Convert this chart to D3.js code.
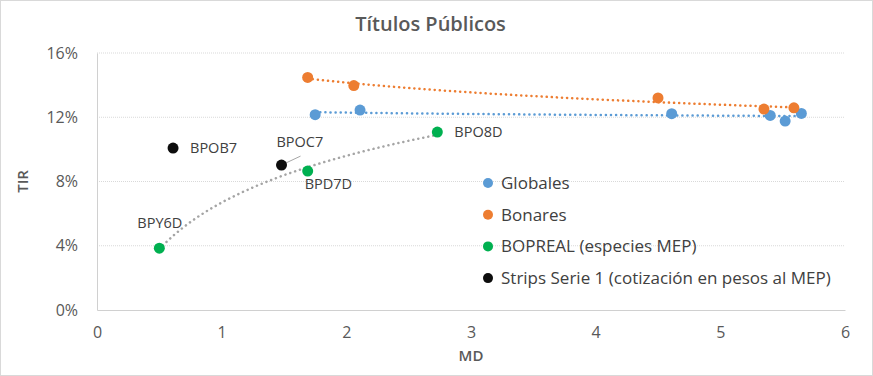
<!DOCTYPE html>
<html>
<head>
<meta charset="utf-8">
<script src="https://cdn.jsdelivr.net/npm/d3@7"></script>
<style>
  body { margin: 0; background: #fff; }
  text { font-family: "Open Sans", "Noto Sans", sans-serif; }
</style>
</head>
<body>
<div id="chart"></div>
<script>
// MD (x) and TIR (y, %) per series
const globalesMD  = [1.75, 2.11, 4.61, 5.40, 5.52, 5.65];
const globalesTIR = [12.16, 12.45, 12.22, 12.11, 11.76, 12.24];

const bonaresMD  = [1.69, 2.06, 4.50, 5.35, 5.59];
const bonaresTIR = [14.48, 13.97, 13.20, 12.51, 12.59];

const boprealNames = ["BPY6D", "BPD7D", "BPO8D"];
const boprealMD    = [0.50, 1.69, 2.73];
const boprealTIR   = [3.85, 8.65, 11.08];

const stripsNames = ["BPOB7", "BPOC7"];
const stripsMD    = [0.61, 1.48];
const stripsTIR   = [10.08, 9.02];

const xTicks = [0, 1, 2, 3, 4, 5, 6];
const yTicks = [0, 4, 8, 12, 16];

const W = 873, H = 376;
const margin = {top: 53, right: 28, bottom: 66, left: 97};
const width = W - margin.left - margin.right;
const height = H - margin.top - margin.bottom;

const svg = d3.select("#chart").append("svg")
    .attr("width", W)
    .attr("height", H);

// outer border
svg.append("rect")
    .attr("x", 0.5).attr("y", 0.5)
    .attr("width", W - 1).attr("height", H - 1)
    .attr("fill", "#fff")
    .attr("stroke", "#d9d9d9");

const g = svg.append("g")
    .attr("transform", `translate(${margin.left}, ${margin.top})`);

const x = d3.scaleLinear().domain([0, 6]).range([0, width]);
const y = d3.scaleLinear().domain([0, 16]).range([height, 0]);

// gridlines
g.selectAll(".grid")
    .data(yTicks.filter(d => d > 0))
    .enter().append("line")
    .attr("class", "grid")
    .attr("x1", 0).attr("x2", width)
    .attr("y1", d => y(d)).attr("y2", d => y(d))
    .attr("stroke", "#d9d9d9")
    .attr("stroke-dasharray", "1,1");

// axes
const xAxis = d3.axisBottom(x).tickValues(xTicks).tickSize(0).tickPadding(17).tickFormat(d3.format("d"));
const yAxis = d3.axisLeft(y).tickValues(yTicks).tickSize(0).tickPadding(19).tickFormat(d => d + "%");

g.append("g").attr("class", "x-axis")
    .attr("transform", `translate(0, ${height})`)
    .call(xAxis);
g.append("g").attr("class", "y-axis").call(yAxis);

g.selectAll(".x-axis path, .y-axis path").attr("stroke", "#d0d0d0");
g.selectAll(".tick text")
    .attr("fill", "#595959")
    .style("font-size", "16px");

// axis titles
svg.append("text")
    .attr("x", margin.left + x(3))
    .attr("y", 361)
    .attr("text-anchor", "middle")
    .attr("fill", "#595959")
    .style("font-size", "15px")
    .style("font-weight", "600")
    .text("MD");

svg.append("text")
    .attr("transform", `translate(28, ${margin.top + y(8)}) rotate(-90)`)
    .attr("text-anchor", "middle")
    .attr("fill", "#595959")
    .style("font-size", "15px")
    .style("font-weight", "600")
    .text("TIR");

// title
svg.append("text")
    .attr("x", W / 2 - 6)
    .attr("y", 31)
    .attr("text-anchor", "middle")
    .attr("fill", "#595959")
    .style("font-size", "20px")
    .style("font-weight", "600")
    .text("Títulos Públicos");

// logarithmic trendline (least squares on ln x)
function logTrend(xs, ys) {
    const lx = xs.map(v => Math.log(v));
    const mx = d3.mean(lx), my = d3.mean(ys);
    const b = d3.sum(lx, (v, i) => (v - mx) * (ys[i] - my)) / d3.sum(lx, v => (v - mx) * (v - mx));
    const a = my - b * mx;
    const [lo, hi] = d3.extent(xs);
    return d3.range(0, 41).map(i => {
        const xv = lo + (hi - lo) * i / 40;
        return [xv, a + b * Math.log(xv)];
    });
}

const line = d3.line().x(d => x(d[0])).y(d => y(d[1])).curve(d3.curveLinear);

const trends = [
    {xs: globalesMD, ys: globalesTIR, color: "#5b9bd5"},
    {xs: bonaresMD, ys: bonaresTIR, color: "#ed7d31"},
    {xs: boprealMD, ys: boprealTIR, color: "#a5a5a5"}
];

g.selectAll(".trend")
    .data(trends)
    .enter().append("path")
    .attr("class", "trend")
    .attr("d", d => line(logTrend(d.xs, d.ys)))
    .attr("fill", "none")
    .attr("stroke", d => d.color)
    .attr("stroke-width", 2.5)
    .attr("stroke-linecap", "round")
    .attr("stroke-dasharray", "0.1,5");

// leader line for BPOC7
g.append("line")
    .attr("x1", x(stripsMD[1]) + 2).attr("y1", y(stripsTIR[1]) - 1)
    .attr("x2", x(stripsMD[1]) + 19).attr("y2", y(stripsTIR[1]) - 9)
    .attr("stroke", "#a6a6a6")
    .attr("stroke-width", 1);

// points
const series = [
    {name: "Globales", xs: globalesMD, ys: globalesTIR, color: "#5b9bd5"},
    {name: "Bonares", xs: bonaresMD, ys: bonaresTIR, color: "#ed7d31"},
    {name: "BOPREAL (especies MEP)", xs: boprealMD, ys: boprealTIR, color: "#00b050"},
    {name: "Strips Serie 1 (cotización en pesos al MEP)", xs: stripsMD, ys: stripsTIR, color: "#0d0d0d"}
];

series.forEach(s => {
    g.selectAll(null)
        .data(s.xs.map((v, i) => [v, s.ys[i]]))
        .enter().append("circle")
        .attr("cx", d => x(d[0]))
        .attr("cy", d => y(d[1]))
        .attr("r", 5.5)
        .attr("fill", s.color);
});

// point labels
const labelOffsets = {
    BPY6D: [-22, -20],
    BPD7D: [-3, 18],
    BPO8D: [17, 5],
    BPOB7: [17, 5],
    BPOC7: [-5, -18]
};
const labels = boprealNames.map((n, i) => ({name: n, x: boprealMD[i], y: boprealTIR[i]}))
    .concat(stripsNames.map((n, i) => ({name: n, x: stripsMD[i], y: stripsTIR[i]})));

g.selectAll(".plabel")
    .data(labels)
    .enter().append("text")
    .attr("class", "plabel")
    .attr("x", d => x(d.x) + labelOffsets[d.name][0])
    .attr("y", d => y(d.y) + labelOffsets[d.name][1])
    .attr("fill", "#404040")
    .style("font-size", "14.5px")
    .text(d => d.name);

// legend
const legend = svg.append("g")
    .attr("transform", "translate(488, 183)");

const item = legend.selectAll(".legend-item")
    .data(series)
    .enter().append("g")
    .attr("class", "legend-item")
    .attr("transform", (d, i) => `translate(0, ${i * 31.7})`);

item.append("circle")
    .attr("r", 5)
    .attr("fill", d => d.color);

item.append("text")
    .attr("x", 13)
    .attr("y", 6)
    .attr("fill", "#404040")
    .style("font-size", "17px")
    .text(d => d.name);
</script>
</body>
</html>
